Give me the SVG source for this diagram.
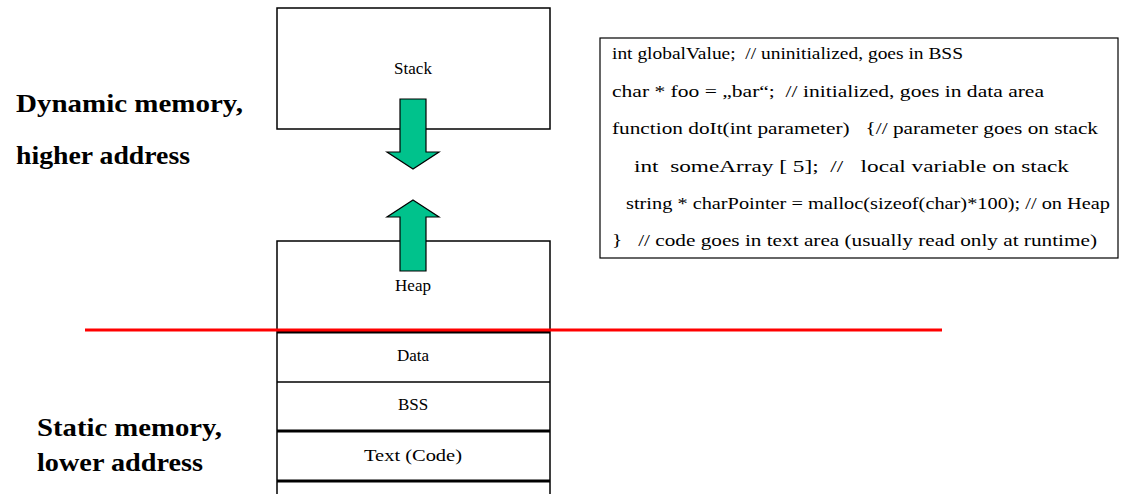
<svg xmlns="http://www.w3.org/2000/svg" width="1124" height="494" viewBox="0 0 1124 494">
<style>
.box{fill:#fff;stroke:#000;stroke-width:1.5}
.div{stroke:#000;stroke-width:1.5}
.thick{stroke:#000;stroke-width:3}
text{font-family:'Liberation Serif','Times New Roman',serif;fill:#000}
.lbl{font-size:17px;text-anchor:middle}
.code{font-size:16px}
.side{font-size:25px;font-weight:bold}
.arrow{fill:#00c28c;stroke:#000;stroke-width:1.2}
</style>
<rect width="1124" height="494" fill="#fff"/>
<g id="stack">
<rect class="box" x="277" y="8" width="273" height="121"/>
<text class="lbl" x="413" y="74">Stack</text>
</g>
<g id="heap-column">
<path class="box" d="M277,495 V241 H550 V495"/>
<text class="lbl" x="413" y="291">Heap</text>
</g>
<g id="data">
<line class="thick" x1="277" y1="332" x2="550" y2="332"/>
<text class="lbl" x="413" y="361">Data</text>
</g>
<g id="bss">
<line class="div" x1="277" y1="382" x2="550" y2="382"/>
<text class="lbl" x="413" y="410">BSS</text>
</g>
<g id="text-code">
<line class="thick" x1="277" y1="431" x2="550" y2="431"/>
<text class="lbl" x="413" y="461" textLength="98" lengthAdjust="spacingAndGlyphs">Text (Code)</text>
<line class="thick" x1="277" y1="481" x2="550" y2="481"/>
</g>
<g id="connectors">
<path class="arrow" d="M400,99 H426 V152 H439 L413,169 L387,152 H400 Z"/>
<path class="arrow" d="M413,200 L439,217 H426 V271 H400 V217 H387 Z"/>
<line x1="85" y1="330" x2="942" y2="330" stroke="#ff0000" stroke-width="3"/>
</g>
<g id="code-box">
<rect x="600" y="38" width="518" height="220" fill="#fff" stroke="#000" stroke-width="1.2"/>
<text class="code" xml:space="preserve" x="612" y="59" textLength="351" lengthAdjust="spacingAndGlyphs">int globalValue;  // uninitialized, goes in BSS</text>
<text class="code" xml:space="preserve" x="612" y="97" textLength="432" lengthAdjust="spacingAndGlyphs">char * foo = „bar“;  // initialized, goes in data area</text>
<text class="code" xml:space="preserve" x="612" y="134" textLength="486" lengthAdjust="spacingAndGlyphs">function doIt(int parameter)   {// parameter goes on stack</text>
<text class="code" xml:space="preserve" x="634" y="172" textLength="435" lengthAdjust="spacingAndGlyphs">int  someArray [ 5];  //   local variable on stack</text>
<text class="code" xml:space="preserve" x="626" y="209" textLength="484" lengthAdjust="spacingAndGlyphs">string * charPointer = malloc(sizeof(char)*100); // on Heap</text>
<text class="code" xml:space="preserve" x="612" y="246" textLength="485" lengthAdjust="spacingAndGlyphs">}   // code goes in text area (usually read only at runtime)</text>
</g>
<g id="dynamic-label">
<text class="side" x="16" y="112" textLength="227" lengthAdjust="spacingAndGlyphs">Dynamic memory,</text>
<text class="side" x="16" y="164" textLength="174" lengthAdjust="spacingAndGlyphs">higher address</text>
</g>
<g id="static-label">
<text class="side" x="37" y="436" textLength="185" lengthAdjust="spacingAndGlyphs">Static memory,</text>
<text class="side" x="37" y="471" textLength="166" lengthAdjust="spacingAndGlyphs">lower address</text>
</g>
</svg>
